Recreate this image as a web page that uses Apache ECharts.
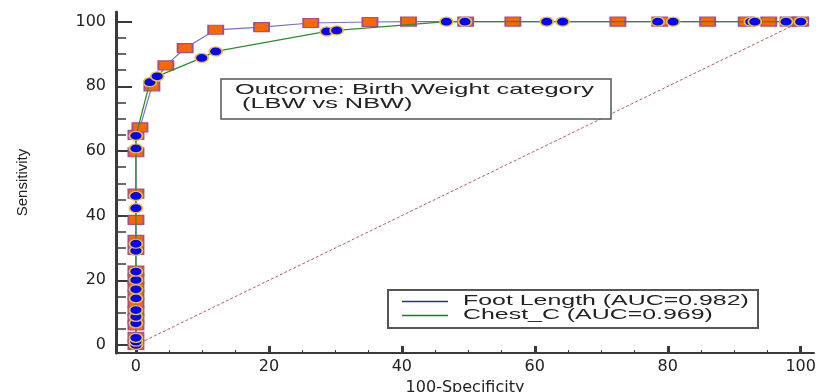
<!DOCTYPE html>
<html><head><meta charset="utf-8">
<script src="https://cdn.jsdelivr.net/npm/echarts@6/dist/echarts.min.js"></script>
<style>html,body{margin:0;padding:0;background:#fff}#c{width:821px;height:392px}</style>
</head><body><div id="c"></div>
<script>
// ---- data ----
const footX = [0,0,0,0,0,0,0,0,0,0,0,0,0,0,0,0,0.6,2.4,4.5,7.4,12,18.9,26.3,35.2,41,49.6,56.7,72.5,78.8,86,91.8,95.2,98.1,100];
const footY = [0,2.5,6,8,10.5,13,15.5,18,20.5,23,29.4,32.5,38.7,46.8,59.6,65,67.3,80,86.5,91.8,97.5,98.3,99.6,99.9,100,100,100,100,100,100,100,100,100,100];
const chestX = [0,0,0,0,0,0,0,0,0,0,0,0,0,0,0,0,2.1,3.2,9.9,12,28.7,30.2,46.7,49.5,61.8,64.2,78.5,80.8,92.5,93.1,97.8,100];
const chestY = [0,1,2.2,6.7,8.7,10.8,14.4,17.2,20.1,22.7,29.1,31.3,42.3,46.1,60.8,64.7,81.3,83.1,88.8,90.8,97,97.3,100,100,100,100,100,100,100,100,100,100];
const refX = [0,100];
const refY = [0,100];
const xMajorTicks = [0,20,40,60,80,100];
const yMajorTicks = [0,20,40,60,80,100];
const minorTicks = [5,10,15,25,30,35,45,50,55,65,70,75,85,90,95];
const footName = 'Foot Length (AUC=0.982)';
const chestName = 'Chest_C (AUC=0.969)';
const noteLines = ['Outcome: Birth Weight category', ' (LBW vs NBW)'];
const xTitle = '100-Specificity';
const yTitle = 'Sensitivity';

const zip = (xs, ys) => xs.map((x, i) => [x, ys[i]]);

const axisColor = '#3a3a3a';
const tickFont = {fontSize: 16, fontFamily: 'DejaVu Sans', color: '#222'};
const ellipse = 'path://M0,5A5,5 0 1,1 10,5A5,5 0 1,1 0,5Z';
const textFont = '15px "Liberation Sans", Arial, sans-serif';
const G = {left: 116, right: 7, top: 12, bottom: 39};
const gridW = 821 - G.left - G.right;
const gridH = 392 - G.top - G.bottom;

const chart = echarts.init(document.getElementById('c'));
chart.setOption({
  animation: false,
  backgroundColor: '#fff',
  grid: {left: G.left, right: G.right, top: G.top, bottom: G.bottom, containLabel: false, outerBoundsMode: 'none'},
  xAxis: [
    {type: 'value', min: -3, max: 102, position: 'bottom',
     axisLine: {onZero: false, lineStyle: {color: axisColor, width: 2}},
     axisTick: {inside: true, length: 7, customValues: xMajorTicks, lineStyle: {color: axisColor, width: 3}},
     axisLabel: Object.assign({customValues: xMajorTicks, margin: 6}, tickFont),
     splitLine: {show: false},
     name: xTitle, nameLocation: 'middle', nameGap: 24,
     nameTextStyle: {fontSize: 16, fontFamily: 'DejaVu Sans', color: '#222'}},
    {type: 'value', min: -3, max: 102, position: 'top', offset: -gridH,
     axisLine: {show: false, onZero: false},
     axisTick: {inside: false, length: 3, customValues: minorTicks, lineStyle: {color: axisColor, width: 1}},
     axisLabel: {show: false}, splitLine: {show: false}}
  ],
  yAxis: [
    {type: 'value', min: -2.5, max: 103, position: 'left',
     axisLine: {onZero: false, lineStyle: {color: axisColor, width: 3}},
     axisTick: {inside: true, length: 16, customValues: yMajorTicks, lineStyle: {color: axisColor, width: 2}},
     axisLabel: Object.assign({customValues: yMajorTicks, margin: 10}, tickFont),
     splitLine: {show: false},
     name: yTitle, nameLocation: 'middle', nameGap: 86,
     nameTextStyle: {fontSize: 15, fontFamily: 'Liberation Sans', color: '#222'}},
    {type: 'value', min: -2.5, max: 103, position: 'right', offset: -gridW,
     axisLine: {show: false, onZero: false},
     axisTick: {inside: false, length: 10, customValues: minorTicks, lineStyle: {color: axisColor, width: 1.5}},
     axisLabel: {show: false}, splitLine: {show: false}}
  ],
  series: [
    {type: 'line', name: 'Reference', data: zip(refX, refY), showSymbol: false, silent: true,
     lineStyle: {color: '#b85c5c', width: 1, type: [3, 2]}, z: 1},
    {type: 'line', name: footName, data: zip(footX, footY), symbol: 'rect', symbolSize: [15, 9],
     itemStyle: {color: '#ff6600', borderColor: '#a0508c', borderWidth: 1.5},
     lineStyle: {color: '#7272c4', width: 1.2}, z: 2},
    {type: 'line', name: chestName, data: zip(chestX, chestY), symbol: ellipse, symbolSize: [13, 9],
     itemStyle: {color: '#0000ff', borderColor: '#f0c030', borderWidth: 1.5},
     lineStyle: {color: '#2e8b2e', width: 1.3}, z: 3}
  ],
  graphic: [
    {type: 'rect', z: 100, shape: {x: 221, y: 79, width: 390, height: 40},
     style: {fill: '#fff', stroke: '#555', lineWidth: 1.5}},
    {type: 'text', z: 101, x: 235, y: 89.5, scaleX: 1.69,
     style: {text: noteLines[0], font: textFont, fill: '#222', verticalAlign: 'middle'}},
    {type: 'text', z: 101, x: 235, y: 103.5, scaleX: 1.69,
     style: {text: noteLines[1], font: textFont, fill: '#222', verticalAlign: 'middle'}},
    {type: 'rect', z: 100, shape: {x: 388, y: 290, width: 370, height: 38},
     style: {fill: '#fff', stroke: '#555', lineWidth: 2}},
    {type: 'line', z: 101, shape: {x1: 402, y1: 301.5, x2: 448, y2: 301.5},
     style: {stroke: '#2c2c96', lineWidth: 1.3}},
    {type: 'line', z: 101, shape: {x1: 402, y1: 315.5, x2: 448, y2: 315.5},
     style: {stroke: '#0f8a0f', lineWidth: 1.3}},
    {type: 'text', z: 101, x: 463, y: 301, scaleX: 1.66,
     style: {text: footName, font: textFont, fill: '#222', verticalAlign: 'middle'}},
    {type: 'text', z: 101, x: 463, y: 315, scaleX: 1.66,
     style: {text: chestName, font: textFont, fill: '#222', verticalAlign: 'middle'}}
  ]
});
</script>
</body></html>
